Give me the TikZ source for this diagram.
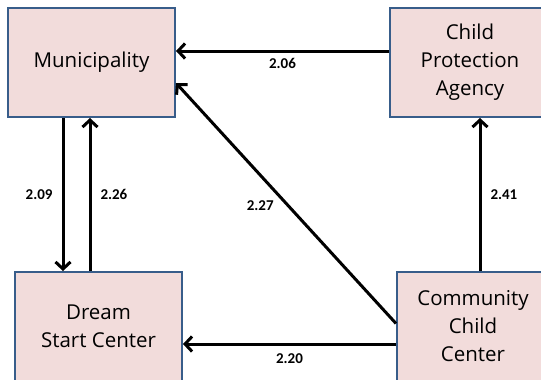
\documentclass[tikz,border=0pt]{standalone}
\usepackage{fontspec}
\setmainfont{Open Sans}
\newfontfamily\valfont{Carlito}
\usetikzlibrary{arrows.meta}
\definecolor{boxfill}{HTML}{F2DCDB}
\definecolor{boxline}{HTML}{385D8A}

\begin{document}
\begin{tikzpicture}[x=1pt,y=-1pt]
\tikzstyle {org}=[rectangle, minimum width=167pt, minimum height=109pt, inner sep=0pt, draw=boxline, line width=2pt, fill=boxfill, align=center, font=\fontsize{20.5}{28}\selectfont]
\tikzstyle {link}=[line width=3pt, -{Straight Barb[length=7pt,width=15pt,line width=3pt]}]
\tikzstyle {val}=[font=\valfont\bfseries\fontsize{15}{17}\selectfont, inner sep=1pt]
\clip (0,0) rectangle (541,380);
\node (mun) [org] at (91.5,62.5) {Municipality};
\node (cpa) [org, minimum width=160pt] at (470,62.5) {Child\\Protection\\Agency};
\node (dsc) [org] at (98.5,326.5) {Dream\\Start Center};
\node (ccc) [org, minimum width=152pt] at (473,326.5) {Community\\Child\\Center};
\draw[link] ([yshift=11.5pt]cpa.west) -- node[val, below=5pt] {2.06} ([yshift=11.5pt]mun.east);
\draw[link] ([xshift=-28.5pt]mun.south) -- node[val, left=8pt] {2.09} ([xshift=-35.5pt]dsc.north);
\draw[link] ([xshift=-8.5pt]dsc.north) -- node[val, right=8pt] {2.26} ([xshift=-1.5pt]mun.south);
\draw[link] ([yshift=3pt]ccc.west) -- node[val, pos=0.49, left=12pt] {2.27} ([yshift=-20.5pt]mun.east);
\draw[link] ([xshift=7pt]ccc.north) -- node[val, right=8pt] {2.41} ([xshift=10pt]cpa.south);
\draw[link] ([yshift=-17.5pt]ccc.west) -- node[val, below=7pt] {2.20} ([yshift=-17.5pt]dsc.east);
\end{tikzpicture}
\end{document}
